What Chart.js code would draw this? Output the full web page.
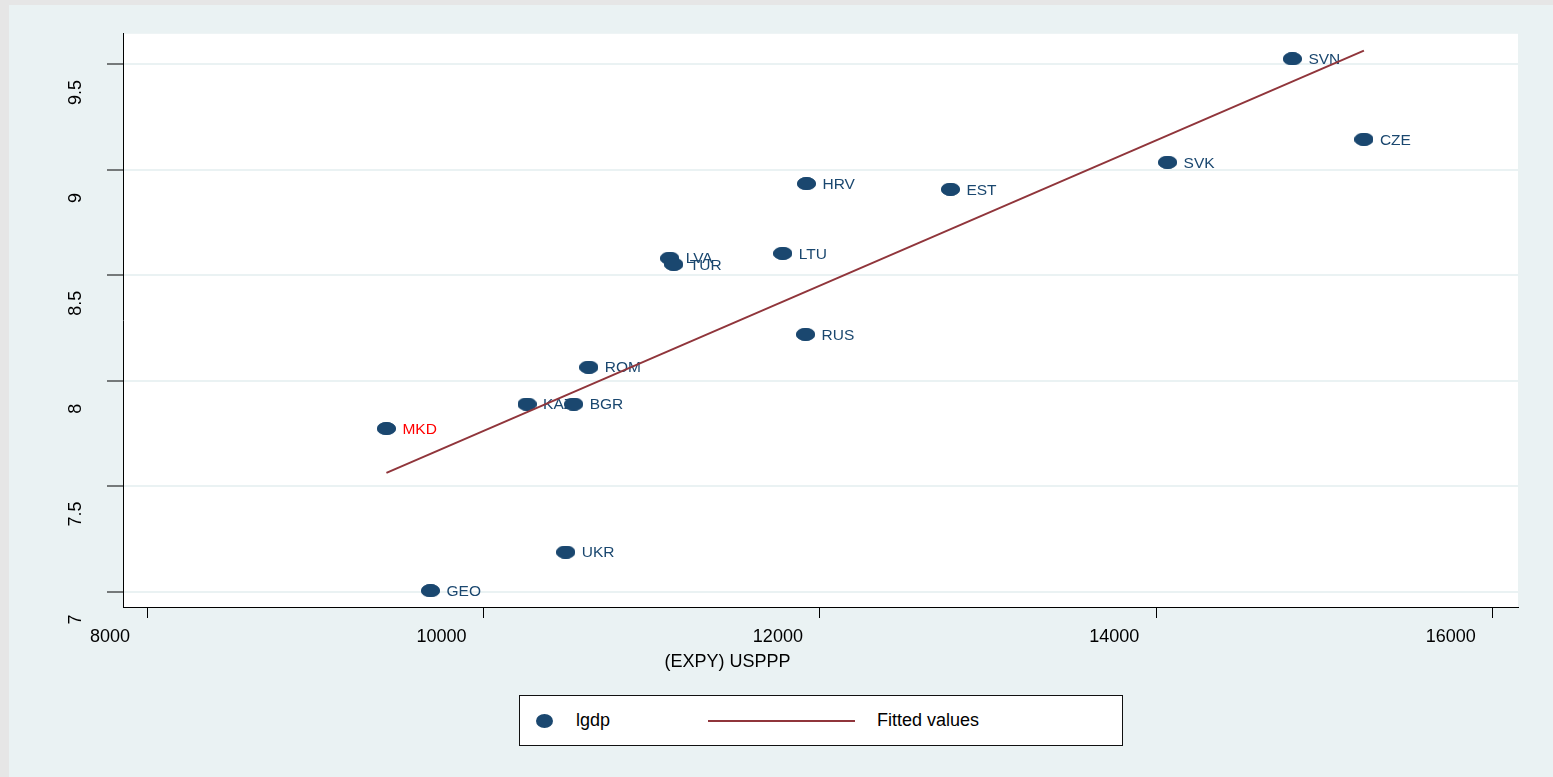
<!DOCTYPE html>
<html>
<head>
<meta charset="utf-8">
<title>lgdp vs (EXPY) USPPP</title>
<script src="https://cdn.jsdelivr.net/npm/chart.js@4.4.1/dist/chart.umd.min.js"></script>
<style>
  html, body { margin: 0; padding: 0; background: #e6e6e6; width: 1553px; height: 777px; overflow: hidden; }
  #wrap { position: absolute; left: 9px; top: 5px; width: 1544px; height: 772px; background: #eaf2f3; }
  #legend {
    position: absolute; left: 510px; top: 690px; width: 604px; height: 51px;
    box-sizing: border-box; border: 1px solid #111; background: #fff;
    font-family: "Liberation Sans", Arial, sans-serif; font-size: 18px; color: #000;
    display: flex; align-items: center;
  }
  #legend .item { display: flex; align-items: center; }
  #legend .label { white-space: nowrap; }
</style>
</head>
<body>
<div id="wrap">
  <canvas id="expyChart" width="1544" height="772"></canvas>
  <div id="legend"></div>
</div>
<script>
// data
const countries = ['SVN', 'CZE', 'SVK', 'HRV', 'EST', 'LTU', 'LVA', 'TUR', 'RUS', 'ROM', 'KAZ', 'BGR', 'MKD', 'UKR', 'GEO'];
const expy = [14809, 15234, 14067, 11920, 12776, 11779, 11107, 11131, 11915, 10626, 10259, 10536, 9423, 10489, 9685];
const lgdp = [9.527, 9.145, 9.036, 8.935, 8.908, 8.604, 8.581, 8.552, 8.220, 8.064, 7.889, 7.889, 7.773, 7.187, 7.004];
const highlighted = ['MKD'];

// fitted line end points (at min and max of EXPY)
const fitX = [9423, 15234];
const fitY = [7.563, 9.566];

const xTicks = [8000, 10000, 12000, 14000, 16000];
const yTicks = [7, 7.5, 8, 8.5, 9, 9.5];

const FONT = '"Liberation Sans", Arial, sans-serif';
const NAVY = '#1a476f';
const MAROON = '#90353b';

// Stata-like oval marker
function ovalMarker(w, h, color) {
    const c = document.createElement('canvas');
    c.width = w; c.height = h;
    const g = c.getContext('2d');
    g.fillStyle = color;
    g.beginPath();
    g.ellipse(w / 2, h / 2, w / 2, h / 2, 0, 0, Math.PI * 2);
    g.fill();
    return c;
}
const marker = ovalMarker(19, 13, NAVY);

const plotBackground = {
    id: 'plotBackground',
    beforeDraw(chart) {
        const {ctx, chartArea: a} = chart;
        ctx.save();
        ctx.fillStyle = '#ffffff';
        ctx.fillRect(a.left, a.top, a.right - a.left, a.bottom - a.top);
        ctx.restore();
    }
};

// country names next to each marker (marker then its label, in data order)
const pointLabels = {
    id: 'pointLabels',
    afterDatasetDraw(chart, args) {
        if (args.index !== 0) return;
        const ctx = chart.ctx;
        ctx.save();
        ctx.font = '15.5px ' + FONT;
        ctx.textBaseline = 'middle';
        ctx.textAlign = 'left';
        args.meta.data.forEach((pt, i) => {
            pt.draw(ctx, chart.chartArea);
            ctx.fillStyle = highlighted.includes(countries[i]) ? '#ff0000' : NAVY;
            ctx.fillText(countries[i], pt.x + 16, pt.y + 1);
        });
        ctx.restore();
    }
};

// x axis title, placed like in the original export
const xTitle = {
    id: 'xTitle',
    afterDraw(chart) {
        const {ctx, chartArea: a} = chart;
        const t = chart.options.scales.x.title;
        ctx.save();
        ctx.font = '18px ' + FONT;
        ctx.fillStyle = '#000';
        ctx.textAlign = 'right';
        ctx.textBaseline = 'middle';
        ctx.fillText(t.text, (a.left + a.right) / 2 - 30, a.bottom + 55);
        ctx.restore();
    }
};

// html legend built from the datasets
const htmlLegend = {
    id: 'htmlLegend',
    afterUpdate(chart) {
        const box = document.getElementById('legend');
        box.innerHTML = '';
        chart.data.datasets.forEach((ds, i) => {
            const item = document.createElement('div');
            item.className = 'item';
            const sw = document.createElement('span');
            const lab = document.createElement('span');
            lab.className = 'label';
            lab.textContent = ds.label;
            if (i === 0) {
                item.style.marginLeft = '16px';
                item.style.width = '172px';
                sw.style.cssText = 'display:inline-block;width:17px;height:14px;border-radius:50%;background:' + NAVY + ';margin-right:23px';
            } else {
                sw.style.cssText = 'display:inline-block;width:147px;height:0;border-top:2.5px solid ' + ds.borderColor + ';margin-right:22px';
            }
            item.appendChild(sw);
            item.appendChild(lab);
            box.appendChild(item);
        });
    }
};

new Chart('expyChart', {
    type: 'scatter',
    data: {
        datasets: [{
            label: 'lgdp',
            data: expy.map((v, i) => ({x: v, y: lgdp[i]})),
            pointStyle: marker,
            backgroundColor: NAVY,
            borderColor: NAVY,
            order: 2
        }, {
            type: 'line',
            label: 'Fitted values',
            data: fitX.map((v, i) => ({x: v, y: fitY[i]})),
            borderColor: MAROON,
            borderWidth: 2,
            pointRadius: 0,
            tension: 0,
            fill: false,
            order: 1
        }]
    },
    options: {
        responsive: false,
        animation: false,
        events: [],
        layout: {padding: {left: 0, top: 28, right: 35, bottom: 110}},
        plugins: {
            legend: {display: false},
            tooltip: {enabled: false}
        },
        scales: {
            x: {
                type: 'linear',
                min: 7857,
                max: 16150,
                afterBuildTicks: (s) => { s.ticks = xTicks.map(v => ({value: v})); },
                afterFit: (s) => { s.height = 60; },
                title: {display: false, text: '(EXPY) USPPP'},
                border: {display: true, color: '#000', width: 1},
                grid: {drawOnChartArea: false, drawTicks: true, tickLength: 11, tickColor: '#000', tickWidth: 1},
                ticks: {
                    color: '#000',
                    font: {family: FONT, size: 18},
                    padding: 8,
                    align: 'end',
                    labelOffset: -17,
                    maxRotation: 0,
                    autoSkip: false,
                    callback: (v) => String(v)
                }
            },
            y: {
                type: 'linear',
                min: 6.9265,
                max: 9.6455,
                afterBuildTicks: (s) => { s.ticks = yTicks.map(v => ({value: v})); },
                afterFit: (s) => { s.width = 114; },
                border: {display: true, color: '#000', width: 1},
                grid: {color: '#eaf2f3', lineWidth: 2, drawTicks: true, tickLength: 16, tickColor: '#000', tickWidth: 1},
                ticks: {
                    color: '#000',
                    font: {family: FONT, size: 18},
                    padding: 18,
                    minRotation: 90,
                    maxRotation: 90,
                    crossAlign: 'center',
                    labelOffset: 28,
                    autoSkip: false,
                    callback: (v) => String(v)
                }
            }
        }
    },
    plugins: [plotBackground, pointLabels, xTitle, htmlLegend]
});
</script>
</body>
</html>
